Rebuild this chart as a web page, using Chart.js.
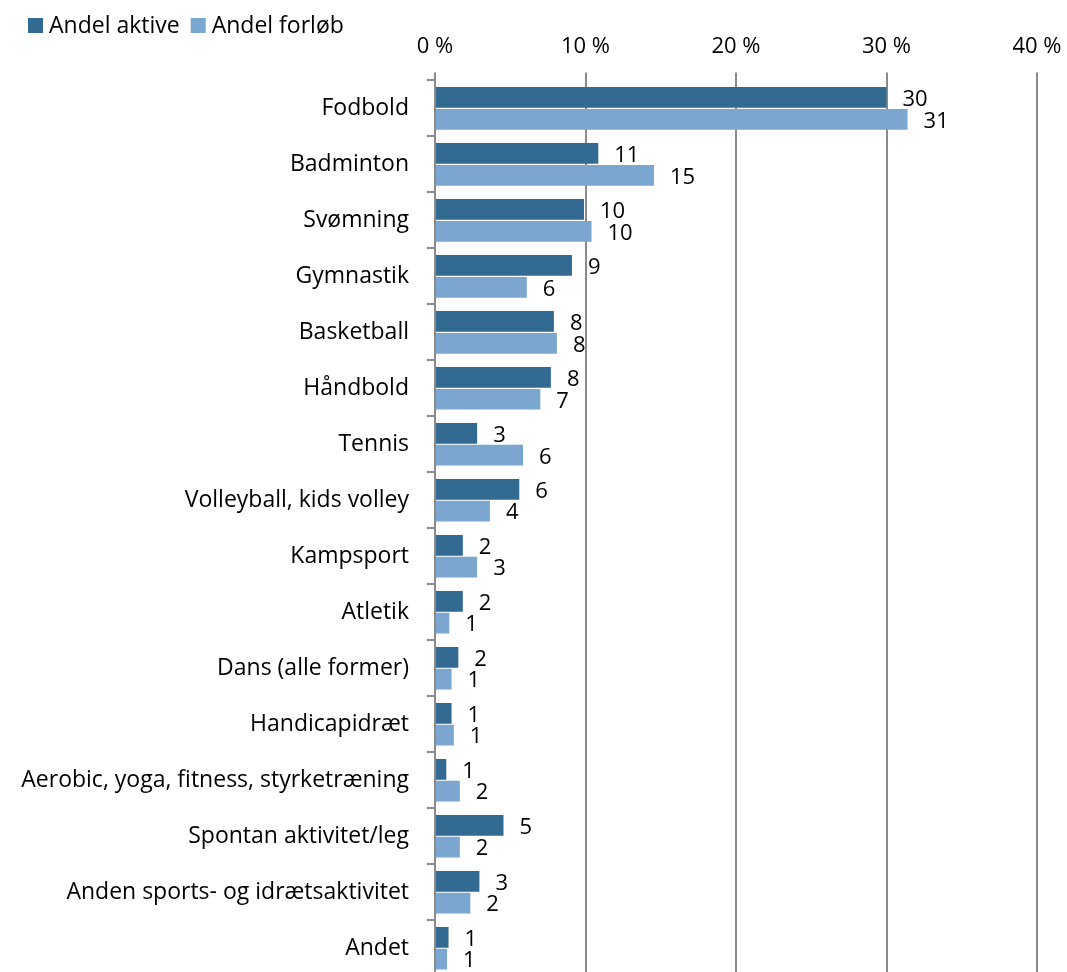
<!DOCTYPE html>
<html>
<head>
<meta charset="utf-8">
<script src="https://cdn.jsdelivr.net/npm/chart.js@4.4.1/dist/chart.umd.min.js"></script>
<style>
  html, body { margin: 0; padding: 0; background: #fff; overflow: hidden; }
  #wrap { width: 1067px; height: 1008px; position: relative; }
</style>
</head>
<body>
<div id="wrap"><canvas id="grafico"></canvas></div>
<script>
const kategorier = [
  'Fodbold', 'Badminton', 'Svømning', 'Gymnastik', 'Basketball', 'Håndbold',
  'Tennis', 'Volleyball, kids volley', 'Kampsport', 'Atletik', 'Dans (alle former)',
  'Handicapidræt', 'Aerobic, yoga, fitness, styrketræning', 'Spontan aktivitet/leg',
  'Anden sports- og idrætsaktivitet', 'Andet'
];
const andelAktive = [30.0, 10.85, 9.9, 9.1, 7.9, 7.7, 2.8, 5.6, 1.85, 1.85, 1.55, 1.1, 0.75, 4.55, 2.95, 0.9];
const andelForlob = [31.4, 14.55, 10.4, 6.1, 8.1, 7.0, 5.85, 3.65, 2.8, 0.95, 1.1, 1.25, 1.65, 1.65, 2.35, 0.8];
const xTicks = [0, 10, 20, 30, 40];

const font = '"Open Sans", sans-serif';
const gitter = '#8a8a8a';

// Tal ved enden af hver søjle
const vaerdiLabels = {
  id: 'vaerdiLabels',
  afterDatasetsDraw(chart) {
    const ctx = chart.ctx;
    ctx.save();
    ctx.font = '22px ' + font;
    ctx.fillStyle = '#000';
    ctx.textAlign = 'left';
    ctx.textBaseline = 'middle';
    chart.data.datasets.forEach((ds, i) => {
      chart.getDatasetMeta(i).data.forEach((bar, j) => {
        ctx.fillText(String(Math.round(ds.data[j])), bar.x + 16, bar.y + 2);
      });
    });
    ctx.restore();
  }
};

// Forklaring øverst til venstre (oven i aksens tal, som i originalen)
const forklaring = {
  id: 'forklaring',
  afterDraw(chart) {
    const ctx = chart.ctx;
    ctx.save();
    ctx.font = '23px ' + font;
    ctx.textBaseline = 'middle';
    ctx.textAlign = 'left';
    let x = 28;
    chart.data.datasets.forEach(ds => {
      ctx.fillStyle = ds.backgroundColor;
      ctx.fillRect(x, 18, 15, 15);
      ctx.fillStyle = '#000';
      ctx.fillText(ds.label, x + 21, 26);
      x += 21 + ctx.measureText(ds.label).width + 11;
    });
    ctx.restore();
  }
};

new Chart(document.getElementById('grafico'), {
  type: 'bar',
  data: {
    labels: kategorier,
    datasets: [
      { label: 'Andel aktive', data: andelAktive, backgroundColor: '#336a91' },
      { label: 'Andel forløb', data: andelForlob, backgroundColor: '#7aa6cf' }
    ]
  },
  options: {
    indexAxis: 'y',
    responsive: true,
    maintainAspectRatio: false,
    animation: false,
    categoryPercentage: 0.78,
    barPercentage: 0.95,
    layout: { padding: { left: 17, right: 30, top: 22, bottom: 4 } },
    plugins: {
      legend: { display: false },
      tooltip: { enabled: false }
    },
    scales: {
      x: {
        position: 'top',
        min: 0,
        max: 40,
        afterBuildTicks(scale) { scale.ticks = xTicks.map(v => ({ value: v })); },
        afterFit(scale) { scale.paddingRight = 0; },
        ticks: {
          padding: 12,
          color: '#000',
          font: { family: font, size: 22 },
          callback: v => v + ' %'
        },
        grid: { color: gitter, lineWidth: 2, tickLength: 8 },
        border: { display: false }
      },
      y: {
        afterFit(scale) { scale.width = 418; },
        ticks: {
          padding: 18,
          color: '#000',
          font: { family: font, size: 23 }
        },
        grid: { offset: true, drawOnChartArea: false, color: gitter, lineWidth: 2, tickLength: 8 },
        border: { display: true, color: gitter, width: 2 }
      }
    }
  },
  plugins: [vaerdiLabels, forklaring]
});
</script>
</body>
</html>
